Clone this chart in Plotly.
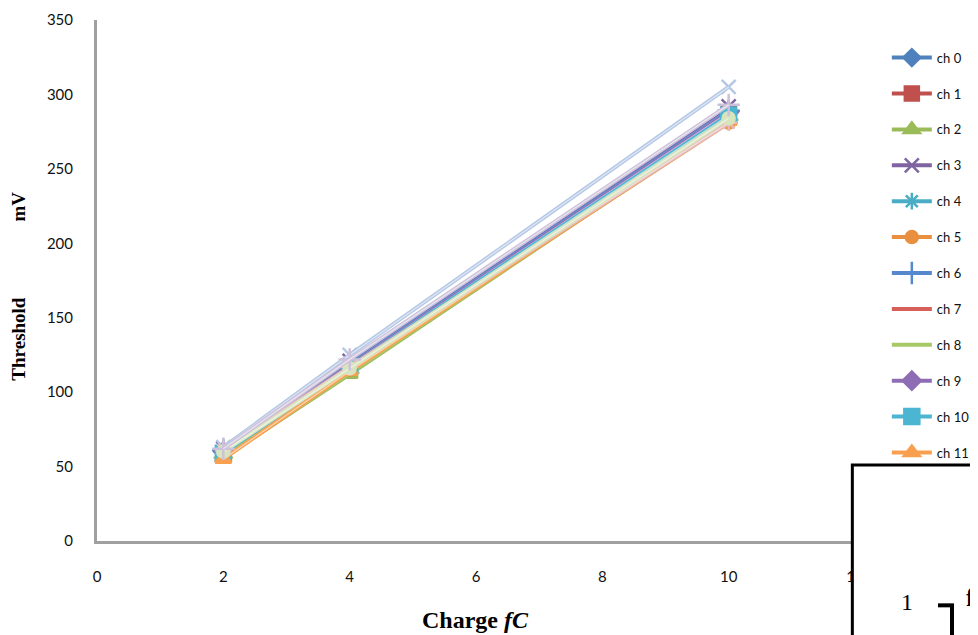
import plotly.graph_objects as go

charge_fc = [2, 4, 10]
channels = ["ch 0", "ch 1", "ch 2", "ch 3", "ch 4", "ch 5", "ch 6", "ch 7",
            "ch 8", "ch 9", "ch 10", "ch 11", "ch 12", "ch 13", "ch 14", "ch 15"]
thresholds = [
    [60, 118, 288],
    [59, 117, 287],
    [56, 112, 283],
    [62, 121, 292],
    [60, 118, 287],
    [58, 115, 281],
    [61, 119, 289],
    [58, 115, 284],
    [56, 113, 283],
    [60, 118, 288],
    [59, 117, 286],
    [55, 114, 282],
    [63, 125, 305],
    [61, 117, 281],
    [60, 116, 284],
    [62, 122, 293],
]
colors = ["#4F81BD", "#C0504D", "#9BBB59", "#8064A2", "#4BACC6", "#E8903F",
          "#5588CC", "#D65F5A", "#A6C865", "#8E6DB5", "#4BB5D2", "#F9A050",
          "#B5C8E6", "#E6B9B8", "#D7E4BD", "#CCC1DA"]
symbols = ["diamond", "square", "triangle-up", "x-thin-open", "asterisk-open", "circle",
           "cross-thin-open", "line-ew-open", "line-ew-open", "diamond", "square", "triangle-up",
           "x-thin-open", "asterisk-open", "circle", "cross-thin-open"]
msizes = [13, 14, 14, 14, 14, 12, 16, 9, 14, 14, 15, 14, 14, 14, 12, 16]
x_ticks = [0, 2, 4, 6, 8, 10, 12]
y_ticks = [0, 50, 100, 150, 200, 250, 300, 350]


def tint(hexc, f=0.55):
    r, g, b = int(hexc[1:3], 16), int(hexc[3:5], 16), int(hexc[5:7], 16)
    r, g, b = [int(c + (255 - c) * f) for c in (r, g, b)]
    return "#%02X%02X%02X" % (r, g, b)


fig = go.Figure()
for i, name in enumerate(channels):
    c = colors[i]
    fig.add_trace(go.Scatter(
        x=charge_fc, y=thresholds[i], name=name, mode="lines+markers",
        legendgroup=name, showlegend=i < 12,
        line=dict(color=c, width=4),
        marker=dict(symbol=symbols[i], size=msizes[i], color=c,
                    line=dict(color=c, width=2.5)),
    ))
    fig.add_trace(go.Scatter(
        x=charge_fc, y=thresholds[i], mode="lines", showlegend=False,
        legendgroup=name, hoverinfo="skip",
        line=dict(color=tint(c), width=1.3),
    ))

axis_common = dict(showgrid=False, zeroline=False, showline=True, linecolor="#A0A0A0",
                   linewidth=3, ticks="", tickfont=dict(family="Lato", size=15, color="#111"))
fig.update_xaxes(range=[0, 12], tickvals=x_ticks, ticklabelstandoff=20, **axis_common)
fig.update_yaxes(range=[0, 350], tickvals=y_ticks, ticklabelstandoff=18, **axis_common)

# page body adds an 8px margin, so the figure is 8px smaller and margins compensate
fig.update_layout(
    width=970, height=627,
    margin=dict(l=89, r=123, t=12, b=94, autoexpand=False),
    paper_bgcolor="white", plot_bgcolor="white",
    legend=dict(x=1.042, y=0.9565, xanchor="left", yanchor="top",
                font=dict(family="Lato", size=13, color="#111"),
                tracegroupgap=16, itemwidth=40, bgcolor="rgba(0,0,0,0)"),
    shapes=[
        dict(type="rect", xref="paper", yref="paper", x0=0.9965, x1=1.25, y0=-0.35, y1=0.146,
             fillcolor="white", line=dict(color="black", width=3), layer="above"),
        dict(type="line", xref="paper", yref="paper", x0=1.1095, x1=1.1306, y0=-0.1235, y1=-0.1235,
             line=dict(color="black", width=4), layer="above"),
        dict(type="line", xref="paper", yref="paper", x0=1.1280, x1=1.1280, y0=-0.1235, y1=-0.2,
             line=dict(color="black", width=4), layer="above"),
    ],
    annotations=[
        dict(text="<b>Charge <i>fC</i></b>", xref="paper", yref="paper", x=0.4993, y=-0.152,
             xanchor="center", yanchor="middle", showarrow=False,
             font=dict(family="Liberation Serif", size=24, color="black")),
        dict(text="<b>Threshold                mV</b>", xref="paper", yref="paper", x=-0.103, y=0.49,
             xanchor="center", yanchor="middle", showarrow=False, textangle=-90,
             font=dict(family="Liberation Serif", size=19, color="black")),
        dict(text="1", xref="paper", yref="paper", x=1.068, y=-0.118,
             xanchor="center", yanchor="middle", showarrow=False,
             font=dict(family="Liberation Serif", size=24, color="black")),
        dict(text="<b>f</b>", xref="paper", yref="paper", x=1.152, y=-0.108,
             xanchor="center", yanchor="middle", showarrow=False,
             font=dict(family="Liberation Serif", size=26, color="black")),
    ],
)

fig.write_html("out.html")
